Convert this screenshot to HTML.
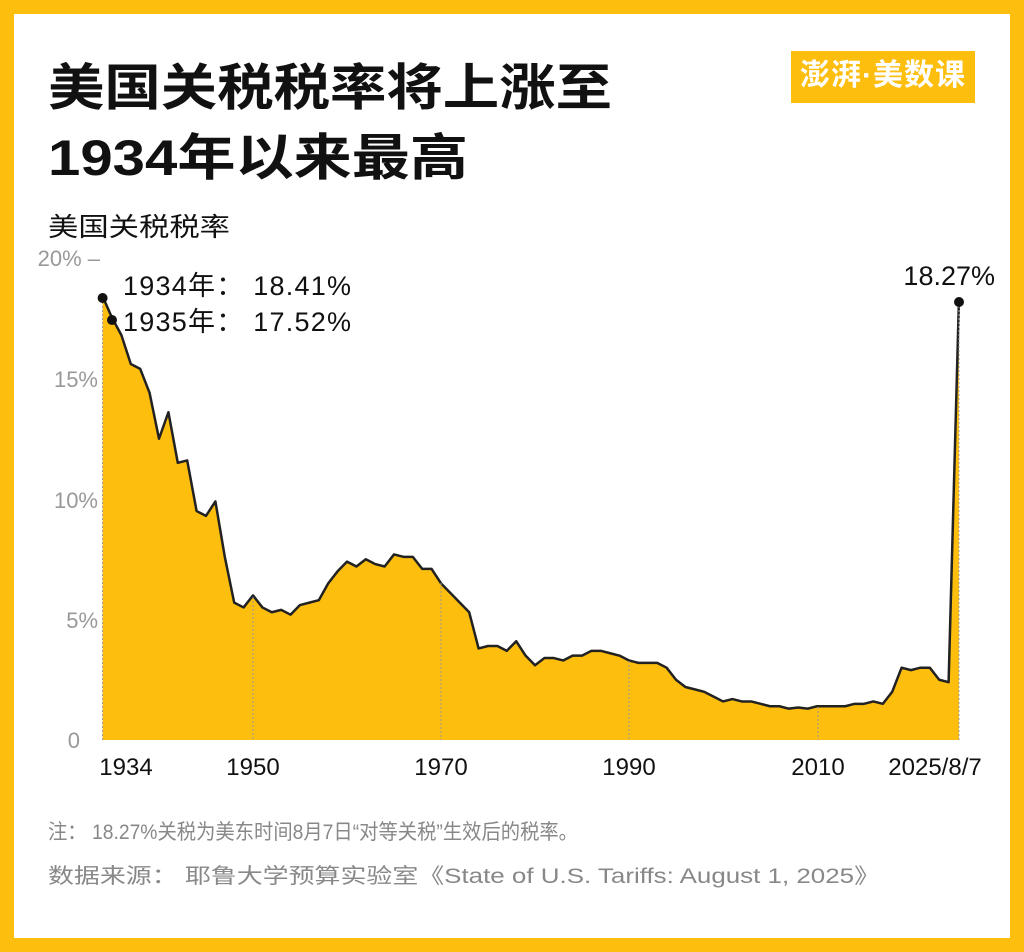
<!DOCTYPE html>
<html><head><meta charset="utf-8"><style>
body{margin:0;width:1024px;height:952px;background:#FDBE0E;font-family:"Liberation Sans","Noto Sans CJK SC",sans-serif;}
.in{position:absolute;left:14px;top:14px;width:996px;height:924px;background:#fff;}
.logo{position:absolute;left:791px;top:51px;width:184px;height:52px;background:#FDBE0E;color:#fff;font-size:30px;font-weight:bold;line-height:50px;text-align:center;letter-spacing:1px;}
</style></head><body>
<div class="in"></div>
<div class="logo">澎湃·美数课</div>
<svg style="position:absolute;left:0;top:0" width="1024" height="952" font-family="Liberation Sans,Noto Sans CJK SC,sans-serif">
<g font-size="50" font-weight="bold" fill="#111">
<text x="48" y="105" textLength="564" lengthAdjust="spacingAndGlyphs">美国关税税率将上涨至</text>
<text x="48" y="175" textLength="420" lengthAdjust="spacingAndGlyphs">1934年以来最高</text>
</g>
<text x="48" y="236" font-size="26" fill="#111" textLength="182" lengthAdjust="spacingAndGlyphs">美国关税税率</text>
<g font-size="22" fill="#999" text-anchor="end" font-family="Liberation Sans,sans-serif">
<text x="100" y="266">20% –</text><text x="98" y="387">15%</text><text x="98" y="508">10%</text><text x="98" y="628">5%</text><text x="80" y="748">0</text>
</g>
<g transform="translate(102.6,740) scale(9.4,-24.1)">
<polygon fill="#FDBE0E" points="0,0 0,18.41 1,17.52 2,16.8 3,15.6 4,15.4 5,14.4 6,12.5 7,13.6 8,11.5 9,11.6 10,9.5 11,9.3 12,9.9 13,7.6 14,5.7 15,5.5 16,6.0 17,5.5 18,5.3 19,5.4 20,5.2 21,5.6 22,5.7 23,5.8 24,6.5 25,7.0 26,7.4 27,7.2 28,7.5 29,7.3 30,7.2 31,7.7 32,7.6 33,7.6 34,7.1 35,7.1 36,6.5 37,6.1 38,5.7 39,5.3 40,3.8 41,3.9 42,3.9 43,3.7 44,4.1 45,3.5 46,3.1 47,3.4 48,3.4 49,3.3 50,3.5 51,3.5 52,3.7 53,3.7 54,3.6 55,3.5 56,3.3 57,3.2 58,3.2 59,3.2 60,3.0 61,2.5 62,2.2 63,2.1 64,2.0 65,1.8 66,1.6 67,1.7 68,1.6 69,1.6 70,1.5 71,1.4 72,1.4 73,1.3 74,1.35 75,1.3 76,1.4 77,1.4 78,1.4 79,1.4 80,1.5 81,1.5 82,1.6 83,1.5 84,2.0 85,3.0 86,2.9 87,3.0 88,3.0 89,2.5 90,2.4 91.1,18.27 91.1,0"/>
<polyline fill="none" stroke="#222" stroke-width="2.5" vector-effect="non-scaling-stroke" stroke-linejoin="round" points="0,18.41 1,17.52 2,16.8 3,15.6 4,15.4 5,14.4 6,12.5 7,13.6 8,11.5 9,11.6 10,9.5 11,9.3 12,9.9 13,7.6 14,5.7 15,5.5 16,6.0 17,5.5 18,5.3 19,5.4 20,5.2 21,5.6 22,5.7 23,5.8 24,6.5 25,7.0 26,7.4 27,7.2 28,7.5 29,7.3 30,7.2 31,7.7 32,7.6 33,7.6 34,7.1 35,7.1 36,6.5 37,6.1 38,5.7 39,5.3 40,3.8 41,3.9 42,3.9 43,3.7 44,4.1 45,3.5 46,3.1 47,3.4 48,3.4 49,3.3 50,3.5 51,3.5 52,3.7 53,3.7 54,3.6 55,3.5 56,3.3 57,3.2 58,3.2 59,3.2 60,3.0 61,2.5 62,2.2 63,2.1 64,2.0 65,1.8 66,1.6 67,1.7 68,1.6 69,1.6 70,1.5 71,1.4 72,1.4 73,1.3 74,1.35 75,1.3 76,1.4 77,1.4 78,1.4 79,1.4 80,1.5 81,1.5 82,1.6 83,1.5 84,2.0 85,3.0 86,2.9 87,3.0 88,3.0 89,2.5 90,2.4 91.1,18.27"/>
</g>
<g stroke="#999" stroke-width="1" stroke-dasharray="2,2">
<line x1="102.6" y1="298" x2="102.6" y2="740"/><line x1="253" y1="597" x2="253" y2="740"/><line x1="441" y1="583" x2="441" y2="740"/><line x1="629" y1="661" x2="629" y2="740"/><line x1="818" y1="707" x2="818" y2="740"/><line x1="959" y1="302" x2="959" y2="740"/>
</g>
<circle cx="102.6" cy="298" r="5" fill="#111"/><circle cx="112" cy="320" r="5" fill="#111"/><circle cx="959" cy="302" r="5" fill="#111"/>
<g font-size="27" fill="#111">
<text x="123" y="295" textLength="228" lengthAdjust="spacing">1934年：  18.41%</text><text x="123" y="331" textLength="228" lengthAdjust="spacing">1935年：  17.52%</text>
<text x="995" y="285" text-anchor="end">18.27%</text>
</g>
<g font-size="24" fill="#111" text-anchor="middle" font-family="Liberation Sans,sans-serif">
<text x="126" y="775">1934</text><text x="253" y="775">1950</text><text x="441" y="775">1970</text><text x="629" y="775">1990</text><text x="818" y="775">2010</text><text x="935" y="775">2025/8/7</text>
</g>
<g font-size="21" fill="#888">
<text x="48" y="839" textLength="530" lengthAdjust="spacingAndGlyphs">注：  18.27%关税为美东时间8月7日“对等关税”生效后的税率。</text>
<text x="48" y="883" textLength="832" lengthAdjust="spacingAndGlyphs">数据来源：  耶鲁大学预算实验室《State of U.S. Tariffs: August 1, 2025》</text>
</g>
</svg>
</body></html>
